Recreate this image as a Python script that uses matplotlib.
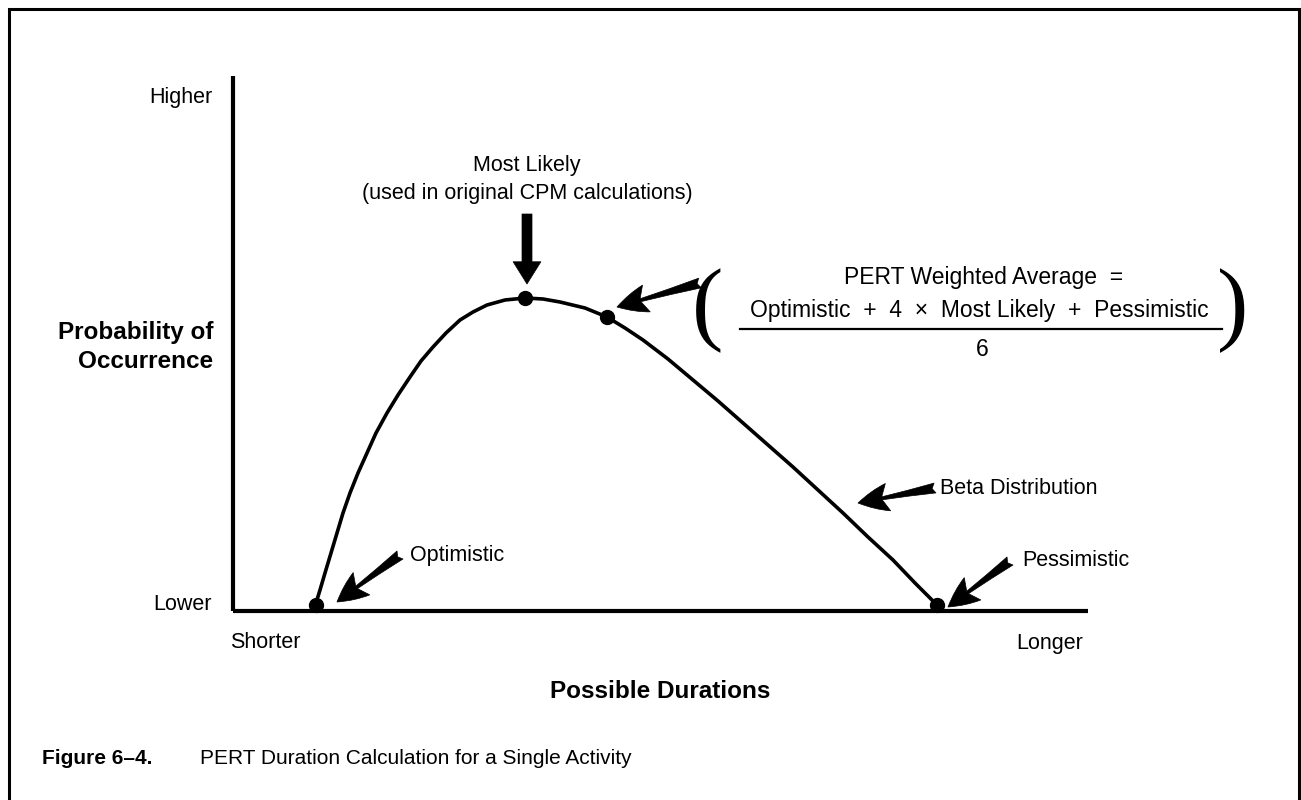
import matplotlib
matplotlib.use("Agg")
import matplotlib.pyplot as plt
from matplotlib.lines import Line2D

W, H = 1301, 800
FONT = "Liberation Sans"
plt.rcParams['font.family'] = [FONT, 'DejaVu Sans']

# ---- data (units: duration along x, probability along y; origin at axes corner) ----
curve_x = [83, 87, 92, 98, 104, 110, 117, 125, 134, 143, 154, 165, 177, 188, 200, 213,
           227, 240, 254, 272, 292, 310, 327, 352, 374, 392, 410, 435, 460, 485, 510,
           535, 560, 585, 610, 635, 660, 682, 704]
curve_y = [8, 21, 38, 58, 78, 98, 118, 138, 158, 178, 198, 216, 234, 250, 264, 278,
           291, 299, 306, 311, 313, 312, 309, 303, 294, 283, 271, 252, 231, 210, 188,
           166, 144, 121, 98, 74, 51, 28, 6]

point_names = ["Optimistic", "Most Likely", "PERT Weighted Average", "Pessimistic"]
point_x = [83, 292, 374, 704]
point_y = [6, 313, 294, 6]

y_tick_labels = ["Lower", "Higher"]
x_tick_labels = ["Shorter", "Longer"]
x_label = "Possible Durations"
y_label = "Probability of\nOccurrence"
caption_bold = "Figure 6\u20134."
caption_text = "PERT Duration Calculation for a Single Activity"

# axes geometry in figure pixels
AX_L, AX_R, AX_T, AX_B = 233, 1088, 76, 611

fig = plt.figure(figsize=(W / 100, H / 100), dpi=100)
ax = fig.add_axes([AX_L / W, 1 - AX_B / H, (AX_R - AX_L) / W, (AX_B - AX_T) / H])
ax.set_xlim(0, AX_R - AX_L)
ax.set_ylim(0, AX_B - AX_T)
for s in ["top", "right"]:
    ax.spines[s].set_visible(False)
for s in ["left", "bottom"]:
    ax.spines[s].set_linewidth(3.0)
    ax.spines[s].set_capstyle("butt")
ax.set_xticks([])
ax.set_yticks([])
ax.patch.set_alpha(0)

ax.plot(curve_x, curve_y, color="black", lw=2.6, solid_capstyle="round", solid_joinstyle="round", zorder=3)
ax.plot(point_x, point_y, "o", color="black", ms=10, zorder=4, clip_on=False)

FS = 15.5
FSB = 17.5
FSF = 16.5


def ftext(x, y, s, **kw):
    kw.setdefault("fontsize", FS)
    return fig.text(x / W, 1 - y / H, s, **kw)


# tick-like labels
ftext(212, 97, y_tick_labels[1], ha="right", va="center")
ftext(212, 604, y_tick_labels[0], ha="right", va="center")
ftext(265, 643, x_tick_labels[0], ha="center", va="center")
ftext(1050, 643, x_tick_labels[1], ha="center", va="center")
ftext(660, 691, x_label, ha="center", va="center", fontweight="bold", fontsize=FSB)
ftext(213, 347, y_label, ha="right", va="center", fontweight="bold", fontsize=FSB, linespacing=1.3)

# annotations
ftext(527, 165, point_names[1], ha="center", va="center")
ftext(527, 194, "(used in original CPM calculations)", ha="center", va="center")
ftext(410, 555, point_names[0], ha="left", va="center")
ftext(1022, 561, point_names[3], ha="left", va="center")
ftext(940, 488, "Beta Distribution", ha="left", va="center")

# formula
ftext(984, 278, "PERT Weighted Average  =", ha="center", va="center", fontsize=FSF)
ftext(979, 311, "Optimistic  +  4  \u00d7  Most Likely  +  Pessimistic", ha="center", va="center", fontsize=FSF)
ftext(982, 350, "6", ha="center", va="center", fontsize=FSF)
fig.add_artist(Line2D([740 / W, 1222 / W], [1 - 329 / H, 1 - 329 / H], color="black", lw=1.6))
ftext(708, 311, "(", ha="center", va="center", fontsize=68, family="Liberation Serif")
ftext(1233, 311, ")", ha="center", va="center", fontsize=68, family="Liberation Serif")


def arrow(x0, y0, x1, y1, style):
    ax.annotate("", xy=(x1 - AX_L, AX_B - y1), xytext=(x0 - AX_L, AX_B - y0),
                xycoords="data", textcoords="data",
                arrowprops=dict(arrowstyle=style, mutation_scale=20,
                                fc="black", ec="black", lw=0.5, shrinkA=0, shrinkB=0),
                annotation_clip=False, zorder=5)


FANCY = "fancy,head_length=1.1,head_width=1.0,tail_width=0.36"
SIMPLE = "simple,head_length=0.8,head_width=1.0,tail_width=0.36"
arrow(527, 214, 527, 284, SIMPLE)
arrow(700, 283, 617, 307, FANCY)
arrow(935, 488, 858, 503, FANCY)
arrow(400, 555, 337, 602, FANCY)
arrow(1010, 561, 948, 607, FANCY)

# caption
ftext(42, 758, caption_bold, ha="left", va="center", fontweight="bold", fontsize=15)
ftext(200, 758, caption_text, ha="left", va="center", fontsize=15)

# frame (open at the bottom)
frame_x = [9 / W, 9 / W, 1299 / W, 1299 / W]
frame_y = [0, 1 - 9 / H, 1 - 9 / H, 0]
fig.add_artist(Line2D(frame_x, frame_y, color="black", lw=2.2, solid_joinstyle="miter"))

fig.savefig("out.png", dpi=100, facecolor="white")
